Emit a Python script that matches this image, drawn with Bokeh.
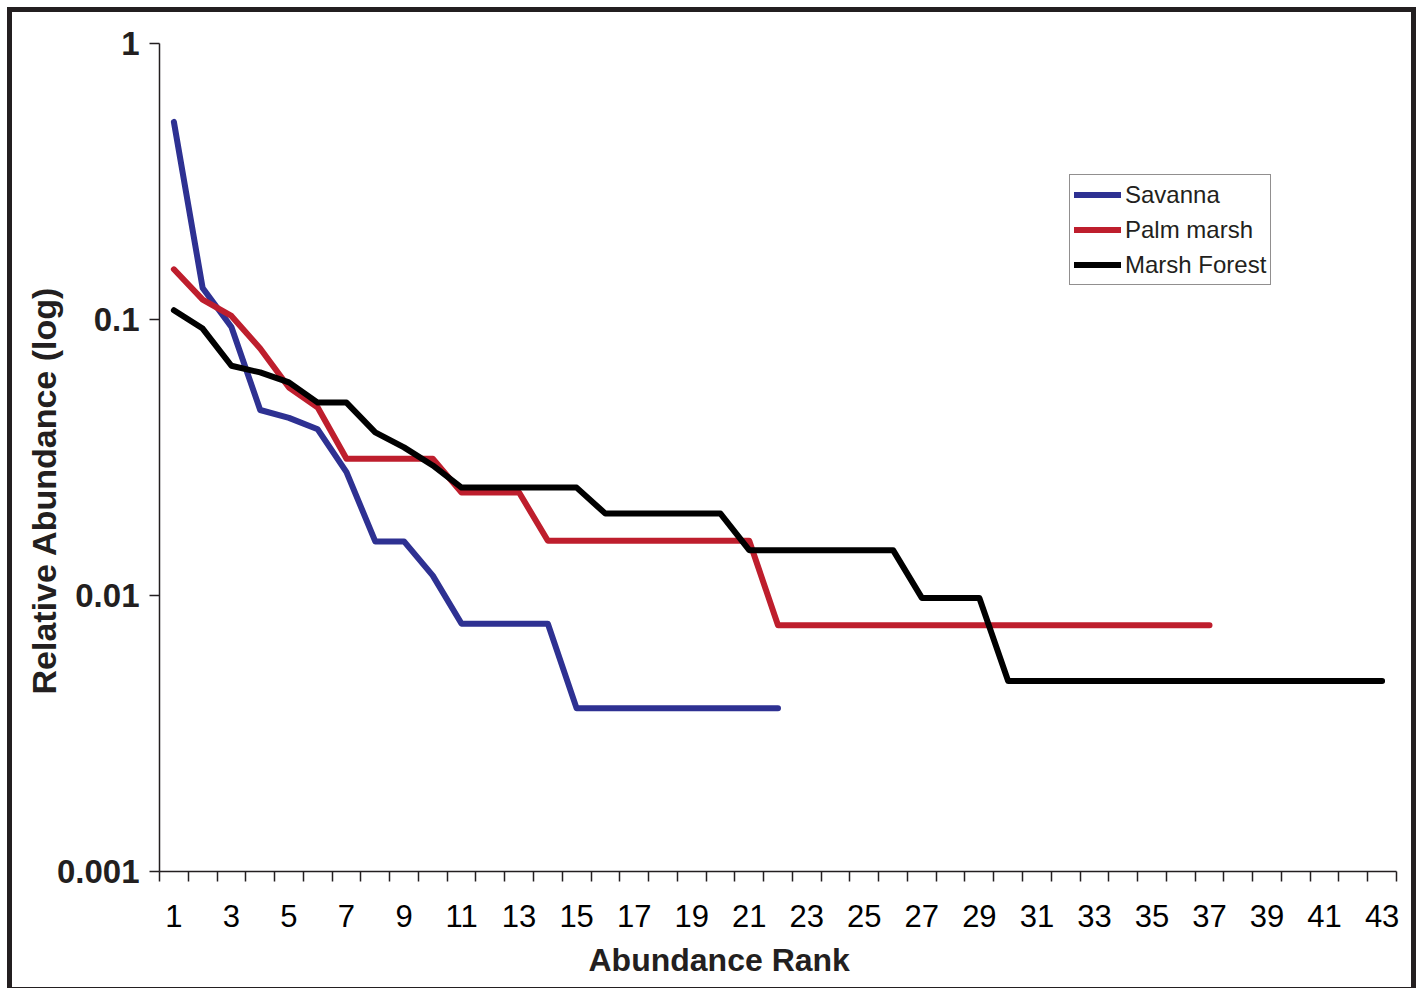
from bokeh.plotting import figure
from bokeh.models import FixedTicker, Legend, LegendItem, Title
from bokeh.embed import file_html
from bokeh.resources import INLINE

# ---- data ----
savanna = [0.52, 0.13, 0.094, 0.047, 0.044, 0.040, 0.028, 0.0157, 0.0157, 0.0118,
           0.0079, 0.0079, 0.0079, 0.0079,
           0.0039, 0.0039, 0.0039, 0.0039, 0.0039, 0.0039, 0.0039, 0.0039]
palm_marsh = [0.152, 0.118, 0.103, 0.0785, 0.0567, 0.048, 0.0313, 0.0313, 0.0313, 0.0313,
              0.0236, 0.0236, 0.0236,
              0.0158, 0.0158, 0.0158, 0.0158, 0.0158, 0.0158, 0.0158, 0.0158,
              0.0078, 0.0078, 0.0078, 0.0078, 0.0078, 0.0078, 0.0078, 0.0078,
              0.0078, 0.0078, 0.0078, 0.0078, 0.0078, 0.0078, 0.0078, 0.0078]
marsh_forest = [0.108, 0.0927, 0.068, 0.0643, 0.0592, 0.050, 0.050, 0.039, 0.0344, 0.0296,
                0.0246, 0.0246, 0.0246, 0.0246, 0.0246,
                0.0198, 0.0198, 0.0198, 0.0198, 0.0198,
                0.0146, 0.0146, 0.0146, 0.0146, 0.0146, 0.0146,
                0.0098, 0.0098, 0.0098,
                0.0049, 0.0049, 0.0049, 0.0049, 0.0049, 0.0049, 0.0049,
                0.0049, 0.0049, 0.0049, 0.0049, 0.0049, 0.0049, 0.0049]
series_names = ["Savanna", "Palm marsh", "Marsh Forest"]
series_colors = ["#2E3192", "#BE1E2D", "#000000"]
n_ranks = 43
x_tick_labels = [r for r in range(1, n_ranks + 1, 2)]
y_ticks = [0.001, 0.01, 0.1, 1]
y_tick_labels = ["0.001", "0.01", "0.1", "1"]
x_title = "Abundance Rank"
y_title = "Relative Abundance (log)"

FONT = "Liberation Sans"
INK = "#231f20"

p = figure(frame_width=1237, frame_height=828,
           x_range=(0.5, n_ranks + 0.5), y_range=(0.001, 1), y_axis_type="log",
           output_backend="svg", toolbar_location=None,
           min_border_left=147, min_border_right=15, min_border_top=31, min_border_bottom=111)
p.styles = {"border": "5px solid #231f20", "margin": "7px 0 0 7px"}
p.outline_line_color = None
p.grid.visible = False
p.background_fill_color = "white"
p.border_fill_color = "white"

renderers = []
for ys, color in zip([savanna, palm_marsh, marsh_forest], series_colors):
    xs = list(range(1, len(ys) + 1))
    r = p.line(xs, ys, line_color=color, line_width=6, line_join="round", line_cap="round")
    renderers.append(r)

# x axis: labels at odd ranks, tick marks between categories
xa = p.xaxis[0]
xa.ticker = FixedTicker(ticks=x_tick_labels,
                        minor_ticks=[i + 0.5 for i in range(0, n_ranks + 1)])
xa.major_tick_line_color = None
xa.minor_tick_line_color = INK
xa.minor_tick_line_width = 1.5
xa.minor_tick_out = 10
xa.minor_tick_in = 0
xa.axis_line_color = INK
xa.axis_line_width = 1.5
xa.major_label_text_font = FONT
xa.major_label_text_font_size = "31px"
xa.major_label_text_color = "#000000"
xa.major_label_standoff = 23

ya = p.yaxis[0]
ya.ticker = FixedTicker(ticks=y_ticks)
ya.major_label_overrides = {t: s for t, s in zip(y_ticks, y_tick_labels)}
ya.major_tick_line_color = INK
ya.major_tick_line_width = 1.5
ya.major_tick_out = 10
ya.major_tick_in = 0
ya.minor_tick_line_color = None
ya.axis_line_color = INK
ya.axis_line_width = 1.5
ya.major_label_text_font = FONT
ya.major_label_text_font_size = "33px"
ya.major_label_text_font_style = "bold"
ya.major_label_text_color = INK
ya.major_label_standoff = 10

# axis titles (placed as side titles so they can sit off-centre like the reference)
p.add_layout(Title(text=x_title, align="left", offset=429, standoff=20,
                   text_font=FONT, text_font_size="32px", text_font_style="bold",
                   text_color=INK), "below")
p.add_layout(Title(text=y_title, align="left", offset=177, standoff=-18,
                   text_font=FONT, text_font_size="34px", text_font_style="bold",
                   text_color=INK), "left")

legend = Legend(items=[LegendItem(label=n, renderers=[r]) for n, r in zip(series_names, renderers)],
                location=(910, 586), orientation="vertical",
                label_text_font=FONT, label_text_font_size="24px", label_text_color=INK,
                glyph_width=47, glyph_height=31, label_height=31, label_standoff=4,
                spacing=4, padding=4, margin=0,
                border_line_color=INK, border_line_width=1.5, background_fill_alpha=1)
p.add_layout(legend, "center")

open("out.html", "w").write(file_html(p, INLINE))
